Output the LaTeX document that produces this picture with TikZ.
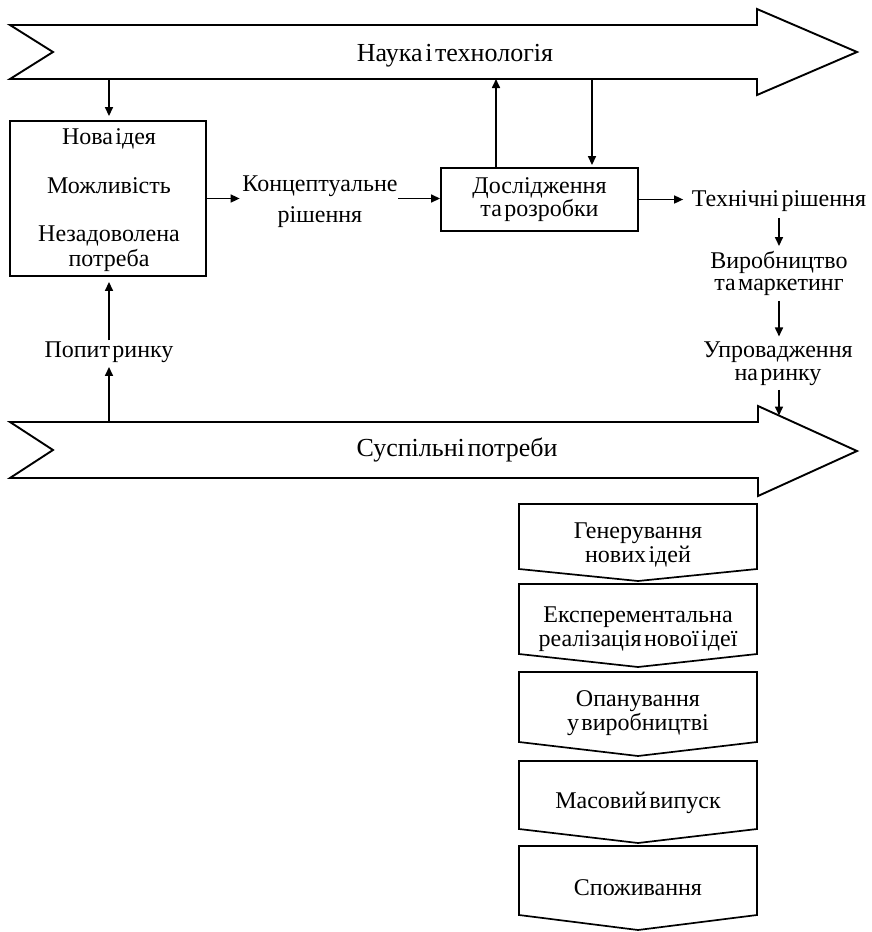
\documentclass[tikz,border=0pt]{standalone}
\usepackage{fontspec}
\setmainfont[WordSpace=0.4]{Liberation Serif}
\usetikzlibrary{arrows.meta}
\begin{document}
\begin{tikzpicture}[x=1pt,y=-1pt,line width=1.6pt,
  band/.style={draw,line width=1.9pt,line join=miter},
  box/.style={draw,line width=1.9pt,inner sep=0pt},
  chev/.style={draw,line width=1.7pt,line join=miter},
  txt/.style={inner sep=0pt,align=center,anchor=base,font=\fontsize{24}{24}\selectfont},
  bandtxt/.style={txt,font=\fontsize{26}{26}\selectfont},
  conn/.style={-{Triangle[length=9pt,width=8pt]},line width=1.6pt}]
\useasboundingbox (0,0) rectangle (872,932);

% --- upper band: science and technology
\draw[band] (10,25) -- (757,25) -- (757,9) -- (857,52) -- (757,95) -- (757,79)
  -- (10,79) -- (53,52) -- cycle;
\node[bandtxt] (sci) at (455,61) {Наука і технологія};
\coordinate (sciL) at (109,79);
\coordinate (sciM) at (496,79);
\coordinate (sciR) at (592,79);

% --- lower band: social needs
\draw[band] (10,422) -- (758,422) -- (758,406) -- (857,451) -- (758,496) -- (758,478)
  -- (10,478) -- (53,450) -- cycle;
\node[bandtxt] (soc) at (457,456) {Суспільні потреби};
\coordinate (socL) at (109,422);
\coordinate (socR) at (779,415.5);

% --- idea box (multi-line labels are placed by the baseline of their last line)
\node[box,minimum width=196pt,minimum height=155pt] (idea) at (108,198.5) {};
\node[txt] (idea1) at (109,144) {Нова ідея};
\node[txt] (idea2) at (109,193) {Можливість};
\node[txt,font=\fontsize{24}{25}\selectfont] (idea3) at (109,266) {Незадоволена\\потреба};

% --- market demand
\node[txt] (demand) at (109,357) {Попит ринку};

% --- conceptual solution
\node[txt,font=\fontsize{24}{31}\selectfont] (concept) at (320,222) {Концептуальне\\рішення};

% --- research box
\node[box,minimum width=197pt,minimum height=63pt,align=center,
  font=\fontsize{24}{23}\selectfont] (research) at (539.5,199.5) {Дослідження\\та розробки};

% --- right column
\node[txt] (tech) at (779,206) {Технічні рішення};
\node[txt,font=\fontsize{24}{22}\selectfont] (prod) at (779,290) {Виробництво\\та маркетинг};
\node[txt,font=\fontsize{24}{23}\selectfont] (intro) at (778,380) {Упровадження\\на ринку};

% --- connectors
\draw[conn,shorten >=4pt] (sciL) -- (sciL |- idea.north);
\draw[conn,shorten >=4pt] (socL) -- (socL |- demand.south);
\draw[conn,shorten >=5pt] (demand.north -| socL) -- (socL |- idea.south);
\draw[conn,shorten >=2pt] (idea.east) -- (idea.east -| concept.west);
\draw[conn] (idea.east -| concept.east) -- (idea.east -| research.west);
\draw[conn] (sciM |- research.north) -- (sciM);
\draw[conn,shorten >=2pt] (sciR) -- (sciR |- research.north);
\draw[conn,shorten >=8pt] (research.east) -- (research.east -| tech.west);
\draw[conn,shorten <=6pt,shorten >=4pt] (tech.south) -- (prod.north -| tech.south);
\draw[conn,shorten <=5pt,shorten >=4pt] (prod.south -| tech.south) -- (intro.north -| tech.south);
\draw[conn,shorten <=4pt] (intro.south -| socR) -- (socR);

% --- stage chevrons
\draw[chev] (519,504) -- (757,504) -- (757,569) -- (638,581) -- (519,569) -- cycle;
\draw[chev] (519,584) -- (757,584) -- (757,654) -- (638,667) -- (519,654) -- cycle;
\draw[chev] (519,672) -- (757,672) -- (757,742) -- (638,756) -- (519,742) -- cycle;
\draw[chev] (519,761) -- (757,761) -- (757,829) -- (638,843) -- (519,829) -- cycle;
\draw[chev] (519,846) -- (757,846) -- (757,915) -- (638,930) -- (519,915) -- cycle;
\node[txt] (st1) at (638,562) {Генерування\\нових ідей};
\node[txt] (st2) at (638,646) {Експерементальна\\реалізація нової ідеї};
\node[txt] (st3) at (638,730) {Опанування\\у виробництві};
\node[txt] (st4) at (638,808) {Масовий випуск};
\node[txt] (st5) at (638,895) {Споживання};
\end{tikzpicture}
\end{document}
